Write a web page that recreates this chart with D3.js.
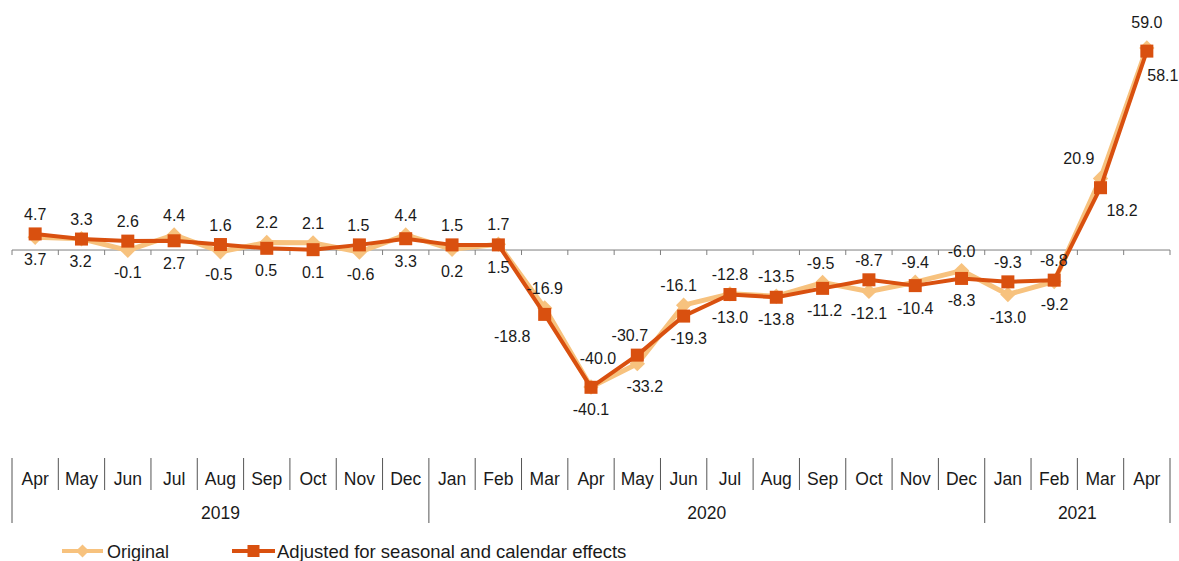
<!DOCTYPE html>
<html>
<head>
<meta charset="utf-8">
<script src="https://cdn.jsdelivr.net/npm/d3@7"></script>
<style>
  body { margin: 0; background: #fff; }
  text { font-family: "Liberation Sans", Arial, sans-serif; fill: #1a1a1a; }
</style>
</head>
<body>
<div id="chart"></div>
<script>
// data
let months = ["Apr","May","Jun","Jul","Aug","Sep","Oct","Nov","Dec",
              "Jan","Feb","Mar","Apr","May","Jun","Jul","Aug","Sep","Oct","Nov","Dec",
              "Jan","Feb","Mar","Apr"];
let years = ["2019", "2020", "2021"];
let yearMonthCount = [9, 12, 4];

let original = [3.7, 3.3, -0.1, 4.4, -0.5, 2.2, 2.1, -0.6, 4.4,
                0.2, 1.7, -16.9, -40.0, -33.2, -16.1, -12.8, -13.5, -9.5, -12.1, -9.4, -6.0,
                -13.0, -9.2, 20.9, 59.0];
let adjusted = [4.7, 3.2, 2.6, 2.7, 1.6, 0.5, 0.1, 1.5, 3.3,
                1.5, 1.5, -18.8, -40.1, -30.7, -19.3, -13.0, -13.8, -11.2, -8.7, -10.4, -8.3,
                -9.3, -8.8, 18.2, 58.1];

let seriesNames = ["Original", "Adjusted for seasonal and calendar effects"];

let width = 1179, height = 561;
let left = 12, right = 1170;
let dark = "#d9500f", light = "#f7c27e";

let svg = d3.select("#chart")
    .append("svg")
    .attr("width", width)
    .attr("height", height);

let idx = months.map(function(d, i) { return i; });

let x = d3.scaleBand()
    .domain(idx)
    .range([left, right]);

let y = d3.scaleLinear()
    .domain([-50, 60])
    .range([421.2, 44.6]);

let cx = function(i) { return x(i) + x.bandwidth() / 2; };

// zero axis with ticks between categories
let axisG = svg.append("g");
axisG.append("line")
    .attr("x1", left).attr("x2", right)
    .attr("y1", y(0)).attr("y2", y(0))
    .attr("stroke", "#7f7f7f").attr("stroke-width", 1);
axisG.selectAll("line.tick")
    .data(d3.range(months.length + 1))
    .enter()
    .append("line")
    .attr("class", "tick")
    .attr("x1", function(i) { return left + i * x.bandwidth(); })
    .attr("x2", function(i) { return left + i * x.bandwidth(); })
    .attr("y1", y(0)).attr("y2", y(0) + 5)
    .attr("stroke", "#7f7f7f").attr("stroke-width", 1);

// lines
let line = function(vals) {
    return d3.line()
        .x(function(i) { return cx(i); })
        .y(function(i) { return y(vals[i]); })(idx);
};

svg.append("path")
    .attr("d", line(original))
    .attr("fill", "none")
    .attr("stroke", light)
    .attr("stroke-width", 5)
    .attr("stroke-linejoin", "round");

svg.selectAll("path.diamond")
    .data(idx)
    .enter()
    .append("path")
    .attr("class", "diamond")
    .attr("d", d3.symbol().type(d3.symbolDiamond2).size(150))
    .attr("transform", function(i) { return `translate(${cx(i)}, ${y(original[i])})`; })
    .attr("fill", light);

svg.append("path")
    .attr("d", line(adjusted))
    .attr("fill", "none")
    .attr("stroke", dark)
    .attr("stroke-width", 4)
    .attr("stroke-linejoin", "round");

svg.selectAll("rect.sq")
    .data(idx)
    .enter()
    .append("rect")
    .attr("class", "sq")
    .attr("x", function(i) { return cx(i) - 6.5; })
    .attr("y", function(i) { return y(adjusted[i]) - 6.5; })
    .attr("width", 13)
    .attr("height", 13)
    .attr("fill", dark);

// data labels: higher value above, lower value below,
// moved sideways away from steep line segments
let labels = [];
let last = idx.length - 1;
idx.forEach(function(i) {
    let a = original[i], b = adjusted[i];
    let hi = Math.max(a, b), lo = Math.min(a, b);
    if (i === last) {
        labels.push({ i: i, v: hi, dx: 0, dy: -26 });
        labels.push({ i: i, v: lo, dx: 16, dy: 24 });
        return;
    }
    let inS = i > 0 ? adjusted[i] - adjusted[i - 1] : 0;
    let outS = adjusted[i + 1] - adjusted[i];
    let up = { dx: 0, dy: -20 }, down = { dx: 0, dy: 22 };
    if (inS > 0 && outS > 0) {
        let m = Math.min(24, Math.min(inS, outS) * 0.8);
        up.dx = -m; down.dx = m;
    } else if (inS < 0 && outS < 0) {
        down.dx = -Math.min(33, Math.min(-inS, -outS) * 1.6);
    } else if (inS < -8 && outS > 8) {
        up.dx = 7; up.dy = -29;          // valley
    }
    labels.push({ i: i, v: hi, dx: up.dx, dy: up.dy });
    labels.push({ i: i, v: lo, dx: down.dx, dy: down.dy });
});

svg.selectAll("text.lbl")
    .data(labels)
    .enter()
    .append("text")
    .attr("class", "lbl")
    .attr("x", function(d) { return cx(d.i) + d.dx; })
    .attr("y", function(d) { return y(d.v) + d.dy + 6; })
    .style("text-anchor", "middle")
    .style("font-size", "16px")
    .text(function(d) { return d.v.toFixed(1); });

// category table
let tableTop = 458, monthBottom = 490, yearBottom = 523;
svg.selectAll("text.month")
    .data(idx)
    .enter()
    .append("text")
    .attr("class", "month")
    .attr("x", function(i) { return cx(i); })
    .attr("y", 485)
    .style("text-anchor", "middle")
    .style("font-size", "17.5px")
    .text(function(i) { return months[i]; });

let yearStarts = [0];
yearMonthCount.forEach(function(c, k) { yearStarts.push(yearStarts[k] + c); });

svg.selectAll("line.sep")
    .data(d3.range(months.length + 1))
    .enter()
    .append("line")
    .attr("class", "sep")
    .attr("x1", function(i) { return left + i * x.bandwidth(); })
    .attr("x2", function(i) { return left + i * x.bandwidth(); })
    .attr("y1", tableTop)
    .attr("y2", function(i) { return yearStarts.indexOf(i) >= 0 ? yearBottom : monthBottom; })
    .attr("stroke", "#555").attr("stroke-width", 1);

svg.selectAll("text.year")
    .data(years)
    .enter()
    .append("text")
    .attr("class", "year")
    .attr("x", function(d, k) {
        return left + (yearStarts[k] + yearMonthCount[k] / 2) * x.bandwidth();
    })
    .attr("y", 519)
    .style("text-anchor", "middle")
    .style("font-size", "17.5px")
    .text(function(d) { return d; });

// legend
let legend = svg.append("g");
let lg1 = legend.append("g").attr("transform", "translate(62, 551)");
lg1.append("line").attr("x1", 0).attr("x2", 41)
    .attr("stroke", light).attr("stroke-width", 4);
lg1.append("path")
    .attr("d", d3.symbol().type(d3.symbolDiamond2).size(110))
    .attr("transform", "translate(20.5, 0)")
    .attr("fill", light);
lg1.append("text").attr("x", 45).attr("y", 7)
    .style("font-size", "18px").text(seriesNames[0]);

let lg2 = legend.append("g").attr("transform", "translate(232, 551)");
lg2.append("line").attr("x1", 0).attr("x2", 43)
    .attr("stroke", dark).attr("stroke-width", 4);
lg2.append("rect").attr("x", 15.5).attr("y", -6).attr("width", 12).attr("height", 12)
    .attr("fill", dark);
lg2.append("text").attr("x", 45).attr("y", 7)
    .style("font-size", "18.5px").text(seriesNames[1]);
</script>
</body>
</html>
